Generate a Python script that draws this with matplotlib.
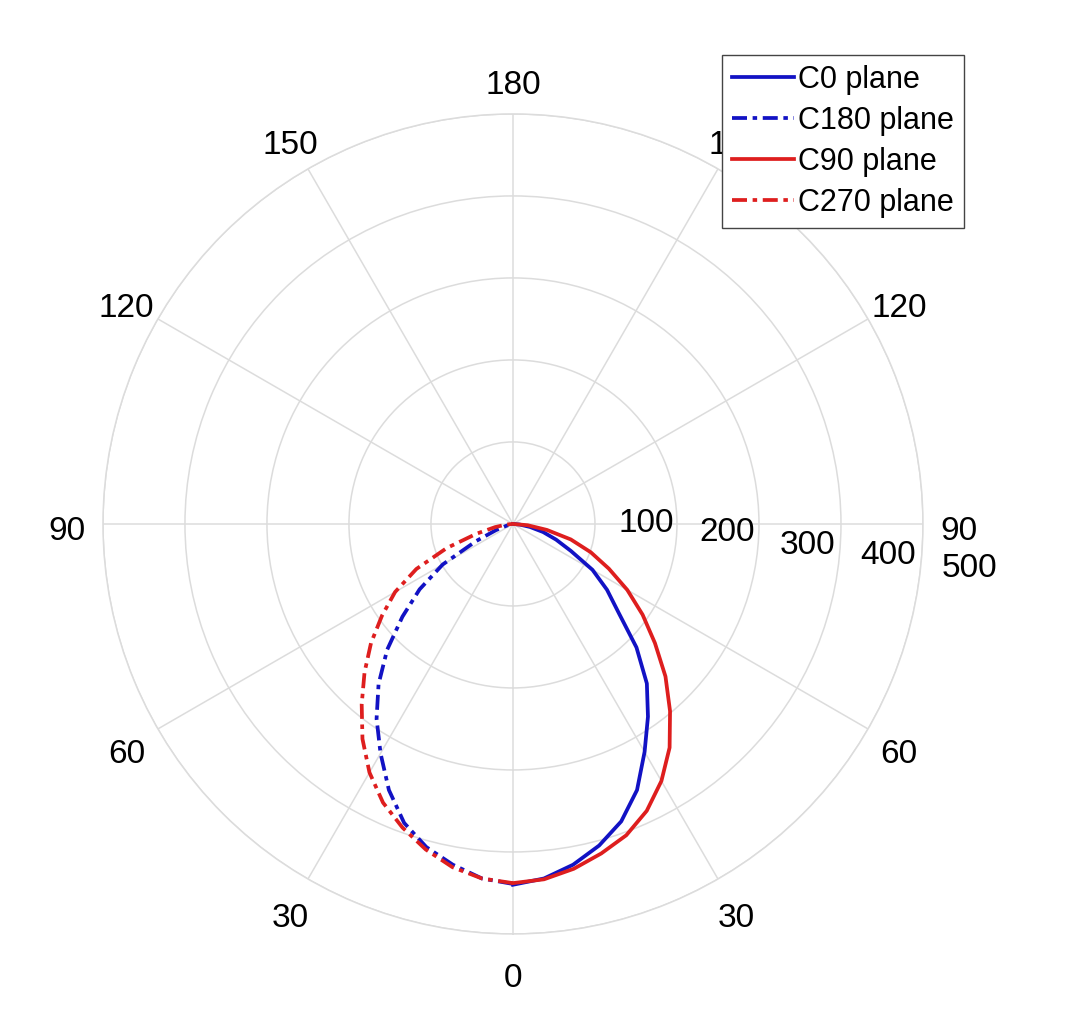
import numpy as np
import matplotlib.pyplot as plt
import matplotlib.transforms as mtransforms

plt.rcParams['font.family'] = ['Liberation Sans', 'DejaVu Sans']

# gamma angles (deg) and luminous intensity
gamma = [0, 5, 10, 15, 20, 25, 30, 35, 40, 45, 50, 55, 60, 65, 70, 75, 80, 85, 90]
c0 = [440, 434, 422, 406, 386, 358, 321, 287, 254, 213, 168, 140, 112, 78, 56, 38, 21, 8, 0]
c180 = [439, 434, 422, 408, 388, 358, 323, 290, 255, 217, 176, 139, 99, 50, 22, 8, 3, 1, 0]
c90 = [438, 435, 427, 416, 404, 386, 362, 333, 298, 263, 226, 193, 161, 129, 101, 73, 42, 18, 0]
c270 = [438, 434, 425, 411, 394, 375, 350, 320, 287, 256, 226, 195, 166, 130, 86, 46, 22, 8, 0]

theta_ticks = [0, 30, 60, 90, 120, 150, 180, 210, 240, 270, 300, 330]
theta_labels = ['0', '30', '60', '90', '120', '150', '180', '150', '120', '90', '60', '30']
r_ticks = [100, 200, 300, 400, 500]
r_label_pos = [(0.663, 0.501), (0.761, 0.489), (0.859, 0.474), (0.957, 0.462), (1.057, 0.446)]

blue = '#1212c4'
red = '#de1e1e'
grid_c = '#dcdcdc'
dashdot = (0, (4, 1.5, 1.2, 1.5))

fig = plt.figure(figsize=(10.86, 10.32), dpi=100)
ax = fig.add_axes([0.0948, 0.0950, 0.7551, 0.7946], projection='polar')
ax.set_theta_zero_location('S')
ax.set_theta_direction(1)

g = np.deg2rad(gamma)
# right side: C0 / C90, left side: C180 / C270
l1, = ax.plot(g, c0, color=blue, lw=2.7, label='C0 plane')
l2, = ax.plot(-g, c180, color=blue, lw=2.7, ls=dashdot, label='C180 plane')
l3, = ax.plot(g, c90, color=red, lw=2.7, label='C90 plane')
l4, = ax.plot(-g, c270, color=red, lw=2.7, ls=dashdot, label='C270 plane')
for ln in (l1, l2, l3, l4):
    ln.set_solid_joinstyle('round')
    ln.set_dash_joinstyle('round')

ax.set_rlim(0, 500)
ax.set_rgrids(r_ticks, labels=[''] * len(r_ticks))
ax.set_thetagrids(theta_ticks, labels=[''] * len(theta_ticks))
ax.grid(True, color=grid_c, lw=1.1)
ax.spines['polar'].set_color(grid_c)
ax.spines['polar'].set_linewidth(1.1)

# angle labels a bit outside the outer ring, shifted slightly down
shift = ax.transData + mtransforms.ScaledTranslation(0, -0.08, fig.dpi_scale_trans)
for t, lab in zip(theta_ticks, theta_labels):
    ax.text(np.deg2rad(t), 544, lab, transform=shift, ha='center', va='center', fontsize=24)

for val, (x, y) in zip(r_ticks, r_label_pos):
    ax.text(x, y, str(val), transform=ax.transAxes, ha='center', va='center', fontsize=24)

leg = fig.legend(handles=[l1, l2, l3, l4], loc='upper left',
                 bbox_to_anchor=(722 / 1086, 1 - 55 / 1032), fontsize=22,
                 fancybox=False, edgecolor='#444444', framealpha=1,
                 handlelength=2.05, handletextpad=0.12, labelspacing=0.36,
                 borderpad=0.32, borderaxespad=0)
leg.get_frame().set_linewidth(1.0)

fig.savefig('out.png', dpi=100)
